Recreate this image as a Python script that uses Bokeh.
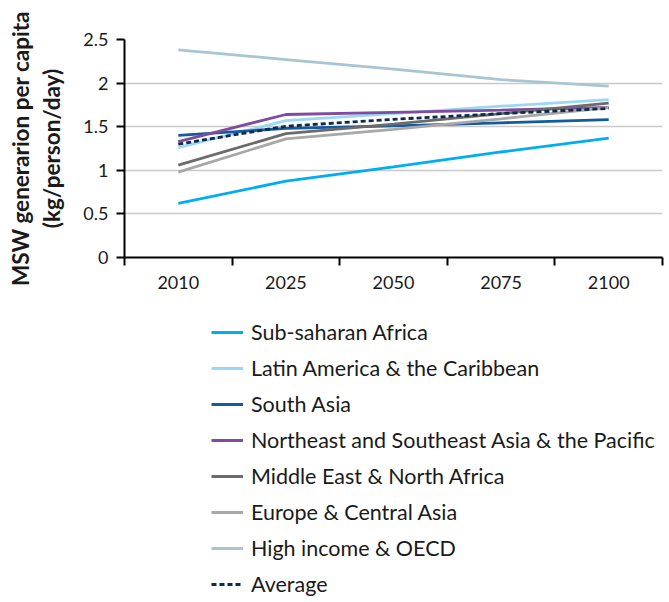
from bokeh.plotting import figure
from bokeh.layouts import column
from bokeh.models import Range1d, FixedTicker, Legend, LegendItem, CustomJSTickFormatter
from bokeh.embed import file_html
from bokeh.resources import INLINE

years = ["2010", "2025", "2050", "2075", "2100"]
y_ticks = [0, 0.5, 1, 1.5, 2, 2.5]

sub_saharan = [0.62, 0.875, 1.04, 1.21, 1.37]
latin_america = [1.26, 1.57, 1.65, 1.735, 1.81]
south_asia = [1.40, 1.48, 1.51, 1.545, 1.58]
ne_se_asia = [1.33, 1.64, 1.665, 1.69, 1.72]
middle_east = [1.06, 1.42, 1.53, 1.65, 1.77]
europe = [0.98, 1.36, 1.47, 1.59, 1.72]
high_income = [2.38, 2.27, 2.16, 2.04, 1.965]
average = [1.30, 1.505, 1.585, 1.65, 1.71]

series = [
    ("Sub-saharan Africa", sub_saharan, "#00AEEF", None),
    ("Latin America & the Caribbean", latin_america, "#9BD8F4", None),
    ("South Asia", south_asia, "#145A9E", None),
    ("Northeast and Southeast Asia & the Pacific", ne_se_asia, "#7F4C9E", None),
    ("Middle East & North Africa", middle_east, "#6B6B6B", None),
    ("Europe & Central Asia", europe, "#A8A8A8", None),
    ("High income & OECD", high_income, "#A9C5D3", None),
    ("Average", average, "#0E2A4D", "5 3"),
]

FONT = "Lato"
TXT = "#1A1A1A"
W = 665
LW = 2.8

centers = [i + 0.5 for i in range(len(years))]
bounds = [i for i in range(len(years) + 1)]

# ---------------- chart ----------------
p = figure(width=W, height=304, output_backend="svg", toolbar_location=None,
           x_range=Range1d(0, len(years)), y_range=Range1d(0, 2.5),
           min_border_left=124, min_border_right=3, min_border_top=39,
           min_border_bottom=47)
p.outline_line_color = None
p.background_fill_color = "white"
p.border_fill_color = "white"

for name, vals, color, dash in series:
    kw = {"line_dash": dash} if dash else {}
    p.line(centers, vals, line_color=color, line_width=LW, **kw)

xa = p.xaxis[0]
xa.ticker = FixedTicker(ticks=centers, minor_ticks=bounds)
xa.formatter = CustomJSTickFormatter(args=dict(labels=years),
                                     code="return labels[Math.floor(tick)]")
xa.major_tick_line_color = None
xa.major_tick_out = 0
xa.major_tick_in = 0
xa.minor_tick_out = 8
xa.minor_tick_in = 0
xa.minor_tick_line_width = 2
xa.minor_tick_line_color = "black"
xa.axis_line_width = 2
xa.axis_line_color = "black"
xa.major_label_standoff = 10
xa.major_label_text_font = FONT
xa.major_label_text_font_size = "18px"
xa.major_label_text_color = TXT

ya = p.yaxis[0]
ya.ticker = FixedTicker(ticks=y_ticks)
ya.formatter = CustomJSTickFormatter(code="return tick.toString()")
ya.major_tick_out = 8
ya.major_tick_in = 0
ya.major_tick_line_width = 2
ya.major_tick_line_color = "black"
ya.minor_tick_line_color = None
ya.axis_line_width = 2
ya.axis_line_color = "black"
ya.major_label_standoff = 8
ya.major_label_text_font = FONT
ya.major_label_text_font_size = "18px"
ya.major_label_text_color = TXT
ya.axis_label = "MSW generarion per capita\n(kg/person/day)"
ya.axis_label_text_font = FONT
ya.axis_label_text_font_style = "bold"
ya.axis_label_text_font_size = "22.5px"
ya.axis_label_text_color = TXT
ya.axis_label_standoff = 15
ya.axis_label_text_line_height = 1.17

p.xgrid.visible = False
p.ygrid.ticker = FixedTicker(ticks=y_ticks)
p.ygrid.grid_line_color = "#C9C9C9"
p.ygrid.grid_line_width = 1.5

# ---------------- legend panel ----------------
lg = figure(width=W, height=297, output_backend="svg", toolbar_location=None,
            x_range=Range1d(-10, -9), y_range=Range1d(0, 1),
            x_axis_type=None, y_axis_type=None,
            min_border_left=0, min_border_right=0, min_border_top=0,
            min_border_bottom=0)
lg.outline_line_color = None
lg.xgrid.visible = False
lg.ygrid.visible = False

items = []
for name, vals, color, dash in series:
    kw = {"line_dash": dash} if dash else {}
    r = lg.line(centers, vals, line_color=color, line_width=LW, **kw)
    items.append(LegendItem(label=name, renderers=[r]))

legend = Legend(items=items, location=(87, -1), orientation="vertical",
                glyph_width=32, glyph_height=36, label_height=36, spacing=0,
                padding=0, margin=0, label_standoff=8,
                label_text_font=FONT, label_text_font_size="21.5px",
                label_text_color=TXT,
                border_line_alpha=0, background_fill_alpha=0)
lg.add_layout(legend)

open("out.html", "w").write(file_html(column(p, lg), INLINE))
